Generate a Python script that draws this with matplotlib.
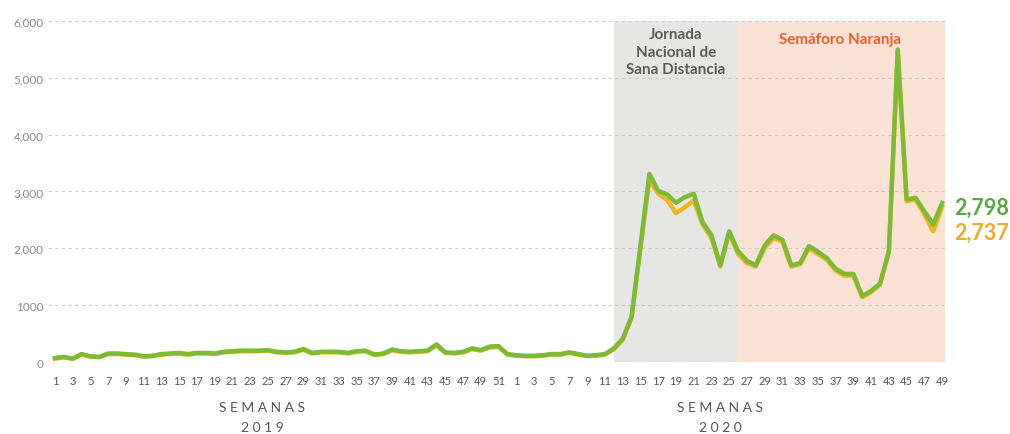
import numpy as np
import matplotlib
matplotlib.use("Agg")
import matplotlib.pyplot as plt

# weekly values, 2019 (weeks 1-52) then 2020 (weeks 1-49)
weeks_2019 = list(range(1, 53))
weeks_2020 = list(range(1, 50))

green_2019 = [70, 90, 60, 140, 100, 90, 150, 150, 140, 130,
              100, 110, 140, 150, 160, 140, 160, 160, 150, 180,
              190, 200, 200, 200, 210, 180, 170, 180, 230, 160,
              180, 180, 180, 160, 190, 200, 130, 150, 220, 190,
              180, 190, 200, 310, 170, 160, 180, 240, 210, 270,
              280, 140]
yellow_2019 = [60, 80, 55, 130, 95, 85, 140, 140, 130, 120,
               95, 105, 130, 140, 150, 130, 150, 150, 140, 170,
               180, 190, 190, 190, 200, 170, 160, 170, 215, 150,
               170, 170, 170, 150, 180, 190, 125, 140, 205, 180,
               170, 180, 190, 290, 160, 150, 170, 225, 200, 255,
               265, 130]
green_2020 = [120, 110, 110, 120, 140, 140, 170, 140, 110, 120,
              140, 240, 410, 800, 2050, 3310, 3010, 2950, 2800, 2900,
              2960, 2460, 2230, 1700, 2300, 1950, 1780, 1700, 2050, 2230,
              2150, 1700, 1740, 2040, 1940, 1830, 1640, 1550, 1550, 1160,
              1250, 1380, 1950, 5500, 2860, 2890, 2650, 2420, 2798]
yellow_2020 = [110, 100, 100, 110, 130, 130, 160, 130, 105, 110,
               130, 225, 390, 780, 2000, 3200, 2960, 2850, 2620, 2720,
               2840, 2420, 2180, 1680, 2270, 1900, 1740, 1680, 2010, 2180,
               2120, 1680, 1720, 2000, 1900, 1800, 1610, 1520, 1520, 1140,
               1230, 1360, 1930, 5450, 2830, 2860, 2600, 2300, 2737]

yticks = [0, 1000, 2000, 3000, 4000, 5000, 6000]
ytick_labels = ["0", "1000", "2,000", "3,000", "4,000", "5,000", "6,000"]

green = green_2019 + green_2020
yellow = yellow_2019 + yellow_2020
x = np.arange(len(green))
n19 = len(weeks_2019)

fig = plt.figure(figsize=(10.1, 4.35), dpi=100)
ax = fig.add_axes([0.0474, 0.1655, 0.888, 0.784])

# shaded periods (2020 weeks 12-26 and 26-end)
ax.axvspan(n19 + 11, n19 + 24.9, color="#e6e7e4", lw=0, zorder=0)
ax.axvspan(n19 + 24.9, len(green) - 0.7, color="#fce2d4", lw=0, zorder=0)

for v in yticks:
    ax.axhline(v, color="#cccccc", lw=0.8, ls=(0, (3, 3)), zorder=1)

ax.plot(x, yellow, color="#f2b51c", lw=3.2, zorder=3, solid_joinstyle="round")
ax.plot(x, green, color="#7cbb36", lw=3.2, zorder=4, solid_joinstyle="round")

ax.set_xlim(-0.8, 100.3)
ax.set_ylim(0, 6000)

xt = list(range(0, n19, 2)) + list(range(n19, len(green), 2))
xl = [str(weeks_2019[i]) for i in range(0, n19, 2)] + \
     [str(weeks_2020[i - n19]) for i in range(n19, len(green), 2)]
ax.set_xticks(xt)
ax.set_xticklabels(xl, fontsize=8, color="#555555", family="Lato")
ax.set_yticks(yticks)
ax.set_yticklabels(ytick_labels, fontsize=8.5, color="#8a8a8a", family="Lato")
ax.tick_params(length=0, axis="x", pad=9)
ax.tick_params(length=0, axis="y", pad=3)
for s in ax.spines.values():
    s.set_visible(False)

ax.text(n19 + 18, 5900, "Jornada\nNacional de\nSana Distancia", ha="center", va="top",
        fontsize=11, fontweight="bold", color="#5b5b5b", family="Lato", linespacing=1.35)
ax.text(n19 + 36.5, 5680, "Semáforo Naranja", ha="center", va="center",
        fontsize=11, fontweight="bold", color="#e8602a", family="Lato")

ax.text(len(green) + 0.3, 2720, "2,798", ha="left", va="center",
        fontsize=15.5, fontweight="bold", color="#55a843", family="Lato", clip_on=False)
ax.text(len(green) + 0.3, 2280, "2,737", ha="left", va="center",
        fontsize=15.5, fontweight="bold", color="#f0a92a", family="Lato", clip_on=False)

fig.text(262 / 1010, 1 - 408 / 435, "S E M A N A S", ha="center", va="center",
         fontsize=10, color="#555555", family="Lato")
fig.text(262 / 1010, 1 - 428 / 435, "2 0 1 9", ha="center", va="center",
         fontsize=10, color="#555555", family="Lato")
fig.text(720 / 1010, 1 - 408 / 435, "S E M A N A S", ha="center", va="center",
         fontsize=10, color="#555555", family="Lato")
fig.text(720 / 1010, 1 - 428 / 435, "2 0 2 0", ha="center", va="center",
         fontsize=10, color="#555555", family="Lato")

fig.savefig("out.png", dpi=100)
